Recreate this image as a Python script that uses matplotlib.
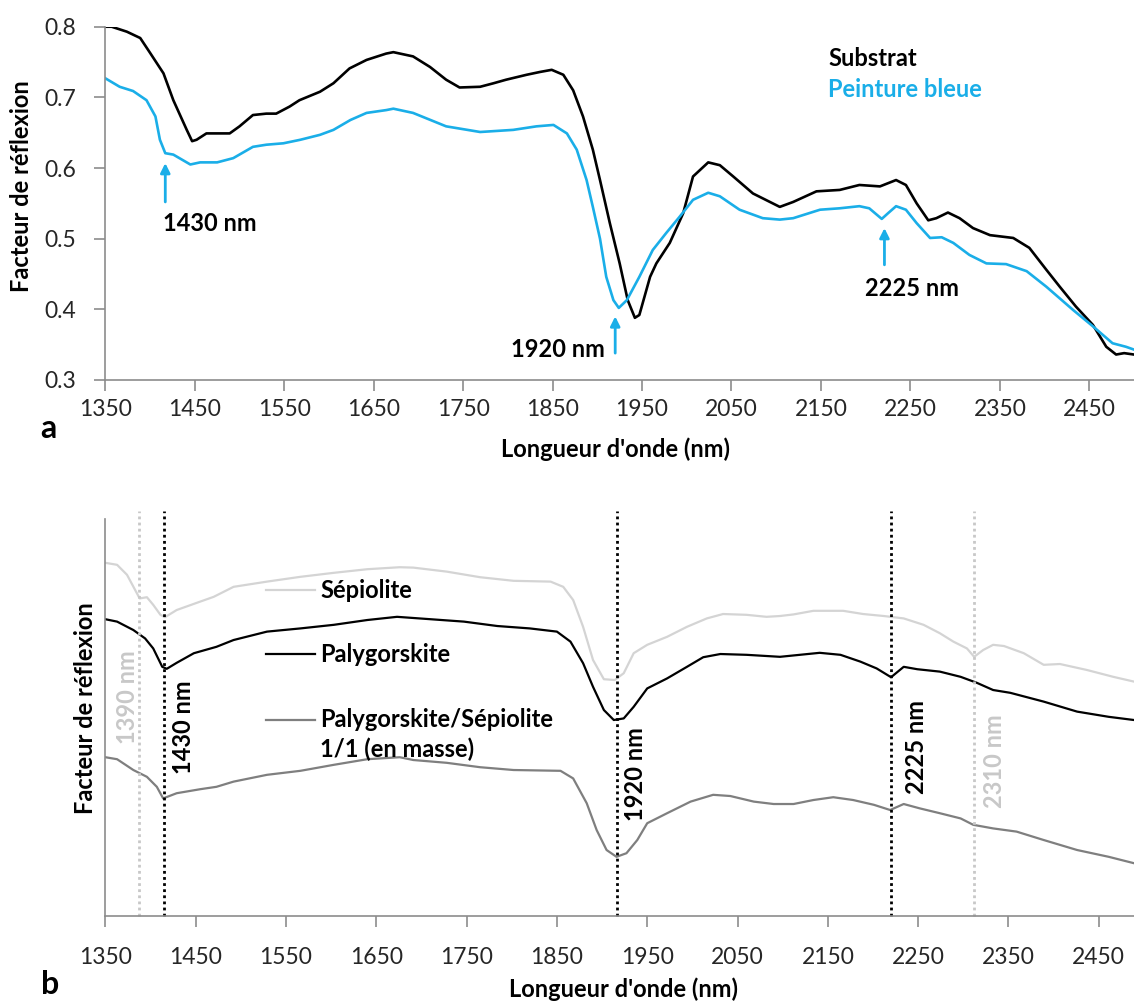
import numpy as np
import matplotlib
matplotlib.use("Agg")
import matplotlib.pyplot as plt


# ------------------------------------------------------------------------------
# panel a : reflectance spectra
wl_substrat = [1350, 1357, 1374, 1389, 1400, 1415, 1426, 1441, 1447, 1452, 1463, 1489,
               1500, 1515, 1530, 1541, 1556, 1567, 1590, 1605, 1623, 1642, 1664, 1672,
               1694, 1713, 1731, 1746, 1769, 1784, 1798, 1821, 1836, 1849, 1862, 1873,
               1884, 1895, 1903, 1914, 1925, 1934, 1942, 1947, 1959, 1966, 1981, 1996,
               2007, 2024, 2037, 2052, 2074, 2104, 2119, 2145, 2171, 2193, 2216, 2234,
               2245, 2257, 2270, 2279, 2292, 2305, 2320, 2339, 2365, 2383, 2402, 2417,
               2435, 2454, 2469, 2480, 2489, 2500]
r_substrat = [0.800, 0.800, 0.793, 0.784, 0.763, 0.734, 0.696, 0.654, 0.638, 0.640, 0.649, 0.649,
              0.659, 0.675, 0.677, 0.677, 0.687, 0.696, 0.708, 0.720, 0.741, 0.753, 0.762, 0.764,
              0.758, 0.743, 0.725, 0.714, 0.715, 0.720, 0.725, 0.732, 0.736, 0.739, 0.732, 0.710,
              0.673, 0.626, 0.583, 0.522, 0.465, 0.413, 0.388, 0.392, 0.446, 0.465, 0.494, 0.536,
              0.588, 0.608, 0.604, 0.588, 0.564, 0.545, 0.552, 0.567, 0.569, 0.576, 0.574, 0.583,
              0.576, 0.550, 0.526, 0.529, 0.537, 0.529, 0.515, 0.505, 0.501, 0.487, 0.456, 0.432,
              0.404, 0.378, 0.347, 0.336, 0.338, 0.336]

wl_peinture = [1350, 1366, 1381, 1396, 1406, 1411, 1417, 1426, 1445, 1456, 1475, 1493,
               1515, 1530, 1549, 1568, 1590, 1605, 1624, 1642, 1664, 1672, 1694, 1731,
               1769, 1806, 1832, 1851, 1866, 1877, 1888, 1895, 1903, 1910, 1918, 1924,
               1933, 1947, 1962, 1977, 1992, 2007, 2024, 2037, 2059, 2085, 2104, 2119,
               2149, 2171, 2193, 2204, 2218, 2225, 2234, 2245, 2257, 2272, 2285, 2298,
               2316, 2335, 2357, 2380, 2402, 2432, 2454, 2476, 2491, 2500]
r_peinture = [0.727, 0.715, 0.709, 0.696, 0.673, 0.640, 0.621, 0.619, 0.605, 0.608, 0.608, 0.614,
              0.630, 0.633, 0.635, 0.640, 0.647, 0.654, 0.668, 0.678, 0.682, 0.684, 0.678, 0.659,
              0.651, 0.654, 0.659, 0.661, 0.649, 0.626, 0.583, 0.545, 0.500, 0.446, 0.413, 0.402,
              0.413, 0.446, 0.484, 0.508, 0.531, 0.555, 0.565, 0.560, 0.541, 0.529, 0.527, 0.529,
              0.541, 0.543, 0.546, 0.543, 0.528, 0.536, 0.546, 0.541, 0.522, 0.501, 0.502, 0.494,
              0.477, 0.465, 0.464, 0.454, 0.432, 0.399, 0.376, 0.352, 0.347, 0.343]

# ------------------------------------------------------------------------------
# panel b : relative reflectance (no scale in the source, arbitrary units)
wl_sepiolite = [1350, 1363, 1374, 1383, 1388, 1396, 1403, 1411, 1416, 1429, 1455, 1470,
                1492, 1529, 1566, 1603, 1640, 1676, 1691, 1728, 1765, 1802, 1843, 1857,
                1868, 1879, 1890, 1902, 1914, 1924, 1935, 1950, 1972, 1994, 2016, 2034,
                2060, 2082, 2097, 2112, 2134, 2167, 2189, 2212, 2234, 2256, 2274, 2289,
                2304, 2312, 2322, 2333, 2345, 2367, 2389, 2407, 2437, 2466, 2489]
r_sepiolite = [0.883, 0.878, 0.853, 0.815, 0.794, 0.797, 0.778, 0.753, 0.747, 0.765, 0.786, 0.798,
               0.823, 0.836, 0.848, 0.858, 0.867, 0.872, 0.871, 0.861, 0.847, 0.838, 0.836, 0.823,
               0.790, 0.723, 0.640, 0.592, 0.590, 0.607, 0.657, 0.678, 0.698, 0.723, 0.744, 0.755,
               0.753, 0.748, 0.750, 0.754, 0.763, 0.763, 0.755, 0.750, 0.744, 0.728, 0.707, 0.686,
               0.669, 0.648, 0.665, 0.678, 0.675, 0.657, 0.628, 0.630, 0.615, 0.598, 0.586]

wl_palygorskite = [1350, 1363, 1381, 1394, 1403, 1413, 1418, 1429, 1448, 1473, 1492, 1529,
                   1566, 1603, 1640, 1673, 1710, 1747, 1784, 1820, 1850, 1865, 1879, 1890,
                   1902, 1913, 1924, 1935, 1950, 1972, 1994, 2012, 2031, 2060, 2097, 2119,
                   2141, 2164, 2186, 2204, 2220, 2234, 2249, 2274, 2297, 2315, 2333, 2352,
                   2389, 2426, 2461, 2489]
r_palygorskite = [0.742, 0.736, 0.715, 0.694, 0.669, 0.623, 0.618, 0.633, 0.657, 0.673, 0.690, 0.711,
                  0.719, 0.728, 0.740, 0.748, 0.742, 0.736, 0.725, 0.719, 0.711, 0.686, 0.632, 0.573,
                  0.515, 0.490, 0.494, 0.523, 0.569, 0.594, 0.623, 0.647, 0.655, 0.653, 0.648, 0.653,
                  0.658, 0.653, 0.636, 0.619, 0.597, 0.623, 0.617, 0.611, 0.598, 0.583, 0.565, 0.558,
                  0.536, 0.511, 0.498, 0.490]

wl_mixture = [1350, 1363, 1381, 1396, 1407, 1414, 1429, 1455, 1473, 1492, 1529, 1566,
              1603, 1640, 1676, 1691, 1728, 1765, 1802, 1854, 1868, 1883, 1894, 1905,
              1916, 1927, 1939, 1950, 1972, 1998, 2023, 2042, 2068, 2090, 2112, 2134,
              2156, 2178, 2201, 2219, 2234, 2252, 2274, 2297, 2311, 2333, 2359, 2389,
              2426, 2461, 2489]
r_mixture = [0.397, 0.392, 0.365, 0.348, 0.323, 0.294, 0.307, 0.317, 0.323, 0.336, 0.353, 0.363,
             0.378, 0.392, 0.397, 0.390, 0.383, 0.372, 0.365, 0.363, 0.344, 0.282, 0.215, 0.165,
             0.148, 0.157, 0.190, 0.232, 0.257, 0.286, 0.303, 0.300, 0.286, 0.280, 0.280, 0.290,
             0.297, 0.290, 0.278, 0.265, 0.280, 0.269, 0.257, 0.244, 0.228, 0.219, 0.211, 0.190,
             0.165, 0.148, 0.132]

# absorption bands marked in panel b (position drawn, label)
bands_b = [1387, 1415, 1916, 2220, 2312]
band_labels_b = ["1390 nm", "1430 nm", "1920 nm", "2225 nm", "2310 nm"]

xticks = list(range(1350, 2451, 100))

BLUE = "#1AAEE8"
LIGHT = "#D4D4D4"
MID = "#7F7F7F"
AXIS = "#8C8C8C"
TXT = "#262626"
FS_TICK = 16.5
FS_BOLD = 17

plt.rcParams['font.family'] = ['Lato', 'DejaVu Sans']


# ------------------------------------------------------------------------------
def style_axis(ax):
	for s in ['top', 'right']:
		ax.spines[s].set_visible(False)
	for s in ['left', 'bottom']:
		ax.spines[s].set_color(AXIS)
		ax.spines[s].set_linewidth(1.2)
	ax.tick_params(direction='out', length=8, width=1.2, color=AXIS,
	               labelsize=FS_TICK, labelcolor=TXT, pad=8)
	ax.set_xticks(xticks)


# ------------------------------------------------------------------------------
def main():

	fig = plt.figure(figsize=(11.34, 10.01), dpi=100)

	# ---------------- panel a
	ax1 = fig.add_axes([0.0929, 0.6204, 0.9071, 0.3529])
	ax1.plot(wl_substrat, r_substrat, color='black', lw=1.9, solid_joinstyle='round')
	ax1.plot(wl_peinture, r_peinture, color=BLUE, lw=1.9, solid_joinstyle='round')
	ax1.set_xlim(1350, 2500)
	ax1.set_ylim(0.3, 0.8)
	ax1.set_yticks([0.3, 0.4, 0.5, 0.6, 0.7, 0.8])
	ax1.set_yticklabels(['0.3', '0.4', '0.5', '0.6', '0.7', '0.8'])
	style_axis(ax1)
	ax1.tick_params(axis='y', pad=13)
	ax1.tick_params(axis='x', pad=6)

	arr = dict(arrowstyle='-|>', color=BLUE, lw=2, mutation_scale=14, shrinkA=0, shrinkB=0)
	ax1.annotate('', xy=(1417, 0.607), xytext=(1417, 0.552), arrowprops=arr)
	ax1.annotate('', xy=(1920, 0.390), xytext=(1920, 0.338), arrowprops=arr)
	ax1.annotate('', xy=(2221, 0.515), xytext=(2221, 0.463), arrowprops=arr)
	ax1.text(1414, 0.522, '1430 nm', fontsize=FS_BOLD, fontweight='bold', ha='left', va='center')
	ax1.text(1908, 0.343, '1920 nm', fontsize=FS_BOLD, fontweight='bold', ha='right', va='center')
	ax1.text(2199, 0.430, '2225 nm', fontsize=FS_BOLD, fontweight='bold', ha='left', va='center')

	ax1.text(2158, 0.755, 'Substrat', fontsize=FS_BOLD, fontweight='bold', color='black', va='center')
	ax1.text(2158, 0.711, 'Peinture bleue', fontsize=FS_BOLD, fontweight='bold', color=BLUE, va='center')

	fig.text(0.0191, 0.8142, 'Facteur de réflexion', rotation=90, fontsize=FS_BOLD,
	         fontweight='bold', ha='center', va='center')
	fig.text(0.543, 0.5435, "Longueur d'onde (nm)", fontsize=FS_BOLD, fontweight='bold',
	         ha='center', va='baseline')
	fig.text(0.0428, 0.5724, 'a', fontsize=23, fontweight='bold', ha='center', va='center')

	# ---------------- panel b
	ax2 = fig.add_axes([0.0929, 0.0849, 0.9071, 0.3966])
	ax2.plot(wl_sepiolite, r_sepiolite, color=LIGHT, lw=1.6)
	ax2.plot(wl_palygorskite, r_palygorskite, color='black', lw=1.6)
	ax2.plot(wl_mixture, r_mixture, color=MID, lw=1.6)
	ax2.set_xlim(1350, 2489)
	ax2.set_ylim(0, 0.9925)
	style_axis(ax2)
	ax2.set_yticks([])
	ax2.tick_params(axis='x', pad=14)

	band_colors = ['#C8C8C8', 'black', 'black', 'black', '#C8C8C8']
	label_x = [1374, 1436, 1937, 2248, 2335]
	label_y = [0.548, 0.473, 0.355, 0.423, 0.388]
	for wl, lab, c, lx, ly in zip(bands_b, band_labels_b, band_colors, label_x, label_y):
		ax2.axvline(wl, ymin=0, ymax=1.02, color=c, lw=2, ls=(0, (1, 1.2)), clip_on=False)
		ax2.text(lx, ly, lab, rotation=90, fontsize=FS_BOLD, fontweight='bold', color=c,
		         ha='center', va='center')

	# legend drawn by hand (third entry on two lines)
	leg = [(0.821, LIGHT, 'Sépiolite'), (0.659, 'black', 'Palygorskite'),
	       (0.495, MID, 'Palygorskite/Sépiolite')]
	for y, c, lab in leg:
		ax2.plot([0.156, 0.204], [y, y], color=c, lw=1.6, transform=ax2.transAxes)
		ax2.text(0.2087, y, lab, transform=ax2.transAxes, fontsize=FS_BOLD,
		         fontweight='bold', va='center')
	ax2.text(0.2087, 0.421, '1/1 (en masse)', transform=ax2.transAxes, fontsize=FS_BOLD,
	         fontweight='bold', va='center')

	fig.text(0.075, 0.2927, 'Facteur de réflexion', rotation=90, fontsize=FS_BOLD,
	         fontweight='bold', ha='center', va='center')
	fig.text(0.550, 0.004, "Longueur d'onde (nm)", fontsize=FS_BOLD, fontweight='bold',
	         ha='center', va='baseline')
	fig.text(0.0442, 0.0165, 'b', fontsize=23, fontweight='bold', ha='center', va='center')

	fig.savefig('out.png', dpi=100)


# ------------------------------------------------------------------------------
if __name__ == '__main__':
	main()
